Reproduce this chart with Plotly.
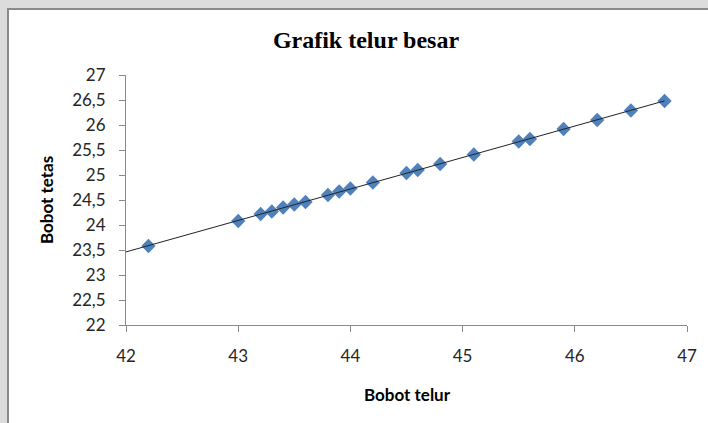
import numpy as np
import plotly.graph_objects as go

# Data
bobot_telur = [42.2, 43.0, 43.2, 43.3, 43.4, 43.5, 43.6, 43.8, 43.9, 44.0, 44.2,
               44.5, 44.6, 44.8, 45.1, 45.5, 45.6, 45.9, 46.2, 46.5, 46.8]
bobot_tetas = [23.58, 24.08, 24.22, 24.27, 24.35, 24.41, 24.46, 24.60, 24.67, 24.73, 24.85,
               25.04, 25.10, 25.22, 25.41, 25.67, 25.72, 25.92, 26.10, 26.29, 26.48]

x_ticks = [42, 43, 44, 45, 46, 47]
y_ticks = [22, 22.5, 23, 23.5, 24, 24.5, 25, 25.5, 26, 26.5, 27]
y_ticktext = ["22", "22,5", "23", "23,5", "24", "24,5", "25", "25,5", "26", "26,5", "27"]
trend_range = [42.0, 46.8]

# Linear trendline fitted to the data
slope, intercept = np.polyfit(bobot_telur, bobot_tetas, 1)
trend_x = np.array(trend_range)
trend_y = slope * trend_x + intercept

W, H = 708, 423
ml, mr, mt, mb = 126, 21, 75, 98
pw, ph = W - ml - mr, H - mt - mb

def px_x(p):
    return (p - ml) / pw

def px_y(p):
    return (H - mb - p) / ph

fig = go.Figure()
fig.add_trace(go.Scatter(
    x=bobot_telur, y=bobot_tetas, mode="markers",
    marker=dict(symbol="diamond", size=11, color="#4f81bd",
                line=dict(width=0)),
    showlegend=False, hoverinfo="x+y"))
fig.add_trace(go.Scatter(
    x=trend_x, y=trend_y, mode="lines",
    line=dict(color="#222222", width=1),
    showlegend=False, hoverinfo="skip"))

tick_font = dict(family="Lato", size=17, color="#262626")
title_font = dict(family="Lato", size=17, color="#000000")

fig.update_layout(
    width=W, height=H,
    margin=dict(l=ml, r=mr, t=mt, b=mb, autoexpand=False),
    paper_bgcolor="#dcdcdc",
    plot_bgcolor="rgba(0,0,0,0)",
    separators=",.",
    showlegend=False,
    title=dict(text="<b>Grafik telur besar</b>",
               font=dict(family="Liberation Serif", size=24, color="#000000"),
               x=px_x(366), xref="paper", xanchor="center",
               y=1 - 40 / H, yanchor="middle"),
    shapes=[dict(type="rect", xref="paper", yref="paper", layer="below",
                 x0=px_x(8), x1=px_x(W + 10), y0=px_y(9), y1=px_y(H + 10),
                 fillcolor="#ffffff", line=dict(color="#8a8a8a", width=2))],
    annotations=[
        dict(text="<b>Bobot telur</b>", xref="paper", yref="paper",
             x=px_x(407), y=px_y(394), xanchor="center", yanchor="middle",
             showarrow=False, font=title_font),
        dict(text="<b>Bobot tetas</b>", xref="paper", yref="paper",
             x=px_x(46), y=px_y(200), xanchor="center", yanchor="middle",
             textangle=-90, showarrow=False, font=title_font),
    ],
    xaxis=dict(range=[42, 47], tickvals=x_ticks, ticks="outside", ticklen=6,
               tickcolor="#8a8a8a", showline=True, linecolor="#8a8a8a",
               linewidth=1, showgrid=False, zeroline=False,
               ticklabelstandoff=10, tickfont=tick_font),
    yaxis=dict(range=[22, 27], tickvals=y_ticks, ticktext=y_ticktext,
               ticks="outside", ticklen=6, tickcolor="#8a8a8a",
               showline=True, linecolor="#8a8a8a", linewidth=1,
               showgrid=False, zeroline=False,
               ticklabelstandoff=10, tickfont=tick_font),
)

fig.write_html("out.html", config={"displayModeBar": False},
               post_script="document.body.style.margin='0';")
